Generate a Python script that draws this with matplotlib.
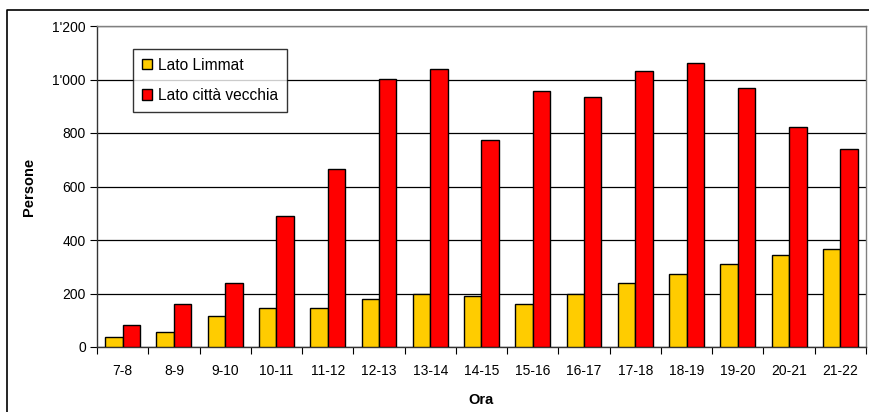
import numpy as np
import matplotlib
matplotlib.use("Agg")
import matplotlib.pyplot as plt
from matplotlib.ticker import FuncFormatter, FixedLocator
from matplotlib.lines import Line2D

plt.rcParams['font.family'] = ['Liberation Sans', 'DejaVu Sans']
NARROW = ['Liberation Sans Narrow', 'Liberation Sans', 'DejaVu Sans']

hours = ["7-8", "8-9", "9-10", "10-11", "11-12", "12-13", "13-14", "14-15",
         "15-16", "16-17", "17-18", "18-19", "19-20", "20-21", "21-22"]
lato_limmat = [37, 55, 117, 144, 144, 179, 199, 189, 160, 199, 238, 272, 312, 344, 365]
lato_citta = [83, 160, 238, 488, 667, 1002, 1040, 774, 957, 935, 1030, 1063, 969, 824, 740]

W, H = 870, 412
fig = plt.figure(figsize=(W / 100, H / 100), dpi=100)
ax = fig.add_axes([97 / W, 1 - 347 / H, (866 - 97) / W, (347 - 26) / H])

x = np.arange(len(hours))
w = 0.34
ax.bar(x - w / 2, lato_limmat, width=w, color="#FFCC00", edgecolor="black",
       linewidth=1, label="Lato Limmat", zorder=3)
ax.bar(x + w / 2, lato_citta, width=w, color="#FF0000", edgecolor="black",
       linewidth=1, label="Lato città vecchia", zorder=3)

ax.set_xlim(-0.5, len(hours) - 0.5)
ax.set_ylim(0, 1200)
ax.set_yticks(np.arange(0, 1201, 200))
ax.yaxis.set_major_formatter(FuncFormatter(lambda v, p: f"{int(v):,}".replace(",", "'")))
ax.yaxis.grid(True, color="black", linewidth=0.9, zorder=0)

# ticks at group boundaries, labels at group centres
ax.xaxis.set_major_locator(FixedLocator(np.arange(-0.5, len(hours), 1.0)))
ax.xaxis.set_major_formatter(FuncFormatter(lambda v, p: ""))
ax.xaxis.set_minor_locator(FixedLocator(x))
ax.set_xticklabels(hours, minor=True, family=NARROW, fontsize=10)
ax.tick_params(axis="x", which="major", length=5, direction="out", width=0.8)
ax.tick_params(axis="x", which="minor", length=0, pad=12)
ax.tick_params(axis="y", length=5, direction="out", width=0.8, labelsize=10, pad=3)

for s in ["left", "bottom"]:
    ax.spines[s].set_color("#333333")
    ax.spines[s].set_linewidth(1)
for s in ["top", "right"]:
    ax.spines[s].set_color("#808080")
    ax.spines[s].set_linewidth(1)

ax.set_xlabel("Ora", fontsize=10.5, fontweight="bold", family=NARROW, labelpad=11)
ax.set_ylabel("Persone", fontsize=10.5, fontweight="bold", family=NARROW, labelpad=12)

leg = ax.legend(loc="upper left", bbox_to_anchor=((133 - 97) / 769, (347 - 49) / 321),
                prop={"size": 11.2}, frameon=True, fancybox=False, shadow=False,
                borderpad=0.55, labelspacing=1.0, handlelength=0.65, handleheight=0.65,
                handletextpad=0.4, borderaxespad=0)
leg.get_frame().set_edgecolor("black")
leg.get_frame().set_linewidth(1)

# outer chart frame (top and left edges visible)
fig.add_artist(Line2D([7.5 / W, 7.5 / W, 1.0], [0.0, 1 - 10 / H, 1 - 10 / H],
                      transform=fig.transFigure, color="black", linewidth=1.2))

fig.savefig("out.png", dpi=100)
